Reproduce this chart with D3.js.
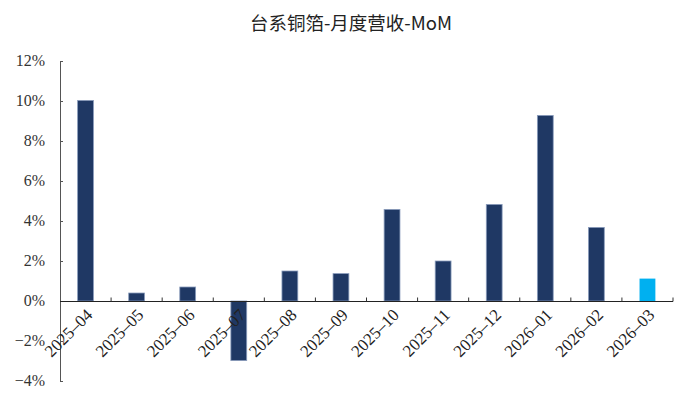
<!DOCTYPE html>
<html><head><meta charset="utf-8">
<script src="https://cdn.jsdelivr.net/npm/d3@7"></script>
<style>body{margin:0;background:#fff}svg{display:block}</style>
</head><body>
<script>
const title = "台系铜箔-月度营收-MoM";
const categories = ["2025-04","2025-05","2025-06","2025-07","2025-08","2025-09","2025-10","2025-11","2025-12","2026-01","2026-02","2026-03"];
const values = [10.03, 0.40, 0.70, -2.98, 1.50, 1.37, 4.58, 2.00, 4.83, 9.28, 3.68, 1.12];
const yTicks = [-4, -2, 0, 2, 4, 6, 8, 10, 12];

const W = 674, H = 403;
const m = {left: 60, right: 1, top: 61, bottom: 22};
const svg = d3.select("body").append("svg").attr("width", W).attr("height", H);
const font = "'Liberation Serif','DejaVu Serif','Noto Sans CJK SC',serif";

const x = d3.scaleBand().domain(categories).range([m.left, W - m.right]).paddingInner(0.69).paddingOuter(0.345);
const xb = d3.scaleBand().domain(categories).range([m.left, W - m.right]);
const y = d3.scaleLinear().domain([-4, 12]).range([H - m.bottom, m.top]);

svg.append("text").attr("x", 351).attr("y", 30).attr("text-anchor", "middle")
  .attr("font-family", "'Noto Sans CJK SC',sans-serif").attr("font-size", 18.5).attr("fill", "#222").text(title);

svg.selectAll("rect.bar").data(values).enter().append("rect")
  .attr("x", (d, i) => x(categories[i]))
  .attr("width", x.bandwidth())
  .attr("y", d => y(Math.max(0, d)))
  .attr("height", d => Math.abs(y(d) - y(0)))
  .attr("fill", (d, i) => i === values.length - 1 ? "#00b0f0" : "#1f3864")
  .attr("stroke", (d, i) => i === values.length - 1 ? "none" : "#8a9cbc")
  .attr("stroke-width", 0.8);

// y axis
const ya = svg.append("g").attr("transform", `translate(${m.left},0)`)
  .call(d3.axisRight(y).tickValues(yTicks).tickSize(3).tickFormat(""));
ya.select(".domain").attr("stroke", "#555");
ya.selectAll(".tick line").attr("stroke", "#555");
svg.selectAll("text.ylab").data(yTicks).enter().append("text")
  .attr("x", 45).attr("y", d => y(d) + 5).attr("text-anchor", "end")
  .attr("font-family", font).attr("font-size", 16).attr("fill", "#333")
  .text(d => (d < 0 ? "\u2212" + Math.abs(d) : d) + "%");

// x axis at zero
const xa = svg.append("g").attr("transform", `translate(0,${y(0) + 0.5})`);
xa.append("line").attr("x1", m.left).attr("x2", W - m.right).attr("stroke", "#222").attr("stroke-width", 1);
xa.selectAll("line.t").data(categories).enter().append("line")
  .attr("x1", d => xb(d) + xb.bandwidth()).attr("x2", d => xb(d) + xb.bandwidth())
  .attr("y1", 0).attr("y2", -4).attr("stroke", "#333");

svg.selectAll("text.xlab").data(categories).enter().append("text")
  .attr("text-anchor", "end")
  .attr("transform", d => `translate(${xb(d) + xb.bandwidth() / 2 + 8},${y(0) + 15}) rotate(-45)`)
  .attr("font-family", font).attr("font-size", 17).attr("fill", "#222")
  .text(d => d.replace("-", "\u2013"));
</script>
</body></html>
